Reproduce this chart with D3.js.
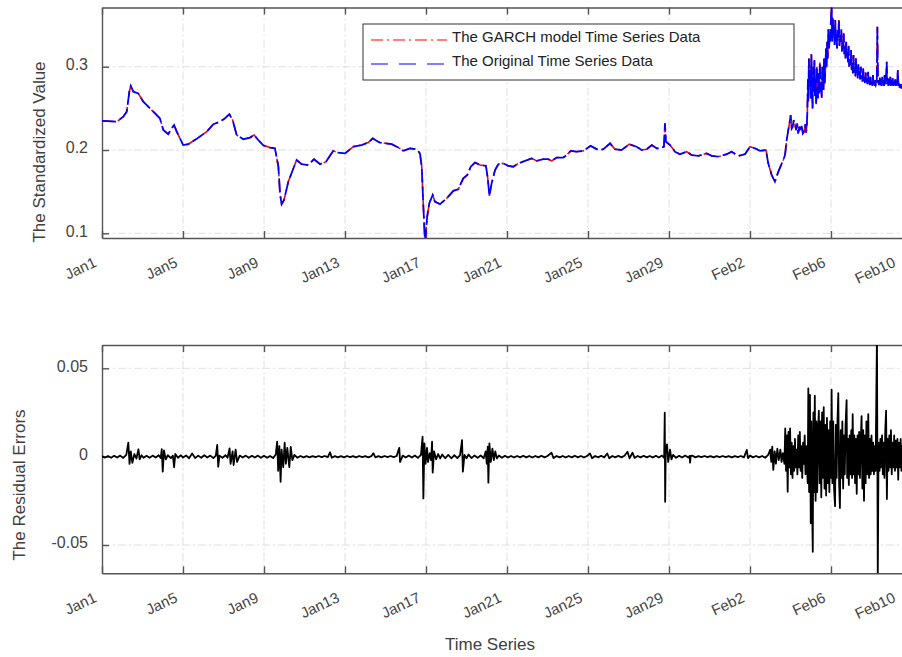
<!DOCTYPE html>
<html>
<head><meta charset="utf-8">
<style>
  body { margin: 0; background: #fff; }
  svg { display: block; font-family: "Liberation Sans", Arial, sans-serif; }
  .grid line { stroke: #dedede; stroke-width: 1; stroke-dasharray: 8,3,2,3; }
  .axis path, .axis line { stroke: #555; stroke-width: 1.4; }
  .axis text { fill: #444; }
  .label { fill: #404040; font-size: 17px; }
</style>
</head>
<body>
<script src="https://d3js.org/d3.v7.min.js"></script>
<script>
var width = 902, height = 657;

// x axis: days after Jan 1
var xTickDays = [0, 4, 8, 12, 16, 20, 24, 28, 32, 36, 40];
var xTickLabels = ["Jan1", "Jan5", "Jan9", "Jan13", "Jan17", "Jan21", "Jan25", "Jan29", "Feb2", "Feb6", "Feb10"];

var topTicks = [0.1, 0.2, 0.3];
var topTickLabels = ["0.1", "0.2", "0.3"];
var bottomTicks = [-0.05, 0, 0.05];
var bottomTickLabels = ["-0.05", "0", "0.05"];

var legendLabels = ["The GARCH model Time Series Data", "The Original Time Series Data"];

// [day, standardized value] (both series overlap)
var standardized = [
  [0.00,0.235],[0.03,0.235],[0.73,0.234],[1.05,0.240],[1.22,0.246],[1.35,0.270],[1.42,0.277],[1.55,0.270],
  [1.79,0.268],[2.04,0.258],[2.37,0.250],[2.62,0.244],[2.86,0.238],[3.03,0.224],[3.27,0.219],[3.44,0.226],
  [3.56,0.230],[3.69,0.222],[4.01,0.206],[4.26,0.207],[4.68,0.2136],[5.17,0.222],[5.50,0.231],[5.83,0.234],
  [6.07,0.238],[6.29,0.243],[6.45,0.236],[6.65,0.218],[6.98,0.213],[7.31,0.215],[7.51,0.218],[7.72,0.212],
  [7.97,0.2056],[8.30,0.203],[8.54,0.202],[8.71,0.180],[8.79,0.148],[8.87,0.135],[8.99,0.140],[9.20,0.162],
  [9.42,0.176],[9.61,0.188],[9.86,0.183],[10.19,0.182],[10.47,0.189],[10.77,0.183],[11.06,0.186],[11.42,0.199],
  [11.67,0.197],[12.00,0.196],[12.41,0.204],[12.82,0.206],[13.15,0.209],[13.37,0.214],[13.64,0.210],[13.73,0.209],
  [14.31,0.207],[14.63,0.203],[14.88,0.199],[15.21,0.202],[15.54,0.201],[15.70,0.196],[15.79,0.180],[15.87,0.132],
  [15.95,0.090],[16.06,0.120],[16.16,0.136],[16.33,0.146],[16.44,0.138],[16.69,0.135],[17.02,0.142],[17.35,0.151],
  [17.60,0.153],[17.84,0.166],[18.04,0.170],[18.21,0.180],[18.42,0.185],[18.67,0.182],[18.96,0.181],[19.05,0.166],
  [19.13,0.145],[19.24,0.160],[19.41,0.176],[19.57,0.183],[19.82,0.184],[20.06,0.181],[20.31,0.180],[20.56,0.184],
  [20.89,0.187],[21.22,0.190],[21.47,0.187],[21.79,0.189],[22.04,0.189],[22.21,0.187],[22.45,0.191],[22.78,0.191],
  [22.95,0.194],[23.15,0.199],[23.44,0.198],[23.77,0.199],[24.13,0.205],[24.51,0.200],[24.76,0.201],[25.09,0.208],
  [25.33,0.201],[25.66,0.200],[26.04,0.207],[26.40,0.204],[26.65,0.200],[26.90,0.201],[27.15,0.206],[27.39,0.202],
  [27.56,0.202],[27.75,0.204],[27.80,0.232],[27.85,0.210],[28.05,0.206],[28.30,0.198],[28.54,0.195],[28.87,0.198],
  [29.12,0.194],[29.45,0.193],[29.86,0.196],[30.11,0.193],[30.43,0.192],[30.85,0.195],[31.09,0.198],[31.42,0.193],
  [31.75,0.195],[32.00,0.204],[32.25,0.202],[32.49,0.199],[32.79,0.200],[32.90,0.184],[33.07,0.170],[33.23,0.162],
  [33.40,0.174],[33.64,0.188],[33.73,0.194],[33.81,0.212],[33.89,0.224],[33.95,0.232],[34.01,0.242],[34.06,0.226],
  [34.11,0.228],[34.16,0.236],[34.22,0.231],[34.28,0.224],[34.33,0.232],[34.38,0.220],[34.44,0.228],[34.50,0.222],
  [34.55,0.229],[34.61,0.220],[34.67,0.222],[34.73,0.231],[34.77,0.221],[34.80,0.227],
  [34.83,0.244],[34.86,0.285],[34.88,0.258],[34.91,0.310],[34.94,0.275],[34.97,0.298],[35.00,0.262],[35.03,0.315],
  [35.06,0.280],[35.09,0.250],[35.12,0.300],[35.15,0.270],[35.18,0.308],[35.21,0.265],[35.24,0.285],[35.27,0.255],
  [35.30,0.300],[35.33,0.275],[35.36,0.262],[35.39,0.292],[35.42,0.268],[35.45,0.305],[35.48,0.270],[35.51,0.282],
  [35.54,0.262],[35.57,0.300],[35.60,0.285],[35.63,0.272],[35.66,0.310],[35.69,0.280],[35.72,0.295],[35.75,0.322],
  [35.78,0.300],[35.81,0.330],[35.84,0.310],[35.87,0.345],[35.90,0.322],[35.93,0.336],[35.96,0.330],[35.99,0.352],
  [36.03,0.372],[36.06,0.330],[36.09,0.358],[36.12,0.338],[36.15,0.348],[36.18,0.326],[36.21,0.356],[36.24,0.330],
  [36.27,0.340],[36.30,0.322],[36.33,0.344],[36.36,0.335],[36.39,0.356],[36.42,0.325],[36.45,0.338],[36.48,0.330],
  [36.51,0.345],[36.54,0.318],[36.57,0.332],[36.60,0.322],[36.63,0.340],[36.66,0.315],[36.69,0.326],[36.72,0.310],
  [36.75,0.330],[36.78,0.312],[36.81,0.318],[36.84,0.305],[36.87,0.325],[36.90,0.300],[36.93,0.310],[36.96,0.302],
  [36.99,0.320],[37.02,0.296],[37.05,0.305],[37.08,0.292],[37.11,0.314],[37.14,0.294],[37.17,0.300],[37.20,0.288],
  [37.23,0.310],[37.26,0.292],[37.29,0.298],[37.32,0.286],[37.35,0.303],[37.38,0.290],[37.41,0.295],[37.44,0.284],
  [37.47,0.300],[37.50,0.286],[37.53,0.290],[37.56,0.282],[37.59,0.298],[37.62,0.283],[37.65,0.288],[37.68,0.280],
  [37.71,0.293],[37.74,0.281],[37.77,0.286],[37.80,0.279],[37.83,0.294],[37.86,0.280],[37.89,0.284],[37.92,0.278],
  [37.95,0.288],[37.98,0.279],[38.01,0.283],[38.04,0.277],[38.07,0.290],[38.10,0.279],[38.13,0.282],[38.16,0.277],
  [38.19,0.284],[38.22,0.278],[38.26,0.280],[38.29,0.348],[38.32,0.280],[38.35,0.284],[38.38,0.278],[38.41,0.287],
  [38.44,0.278],[38.47,0.285],[38.50,0.277],[38.53,0.288],[38.56,0.279],[38.59,0.284],[38.62,0.277],[38.65,0.290],
  [38.68,0.278],[38.72,0.282],[38.75,0.306],[38.78,0.279],[38.81,0.286],[38.84,0.277],[38.87,0.285],[38.90,0.278],
  [38.93,0.288],[38.96,0.277],[38.99,0.284],[39.02,0.278],[39.05,0.286],[39.08,0.277],[39.11,0.283],[39.14,0.278],
  [39.17,0.285],[39.20,0.277],[39.23,0.282],[39.26,0.277],[39.30,0.296],[39.33,0.277],[39.36,0.281],[39.39,0.275],
  [39.43,0.279],[39.47,0.274],[39.51,0.277],[39.60,0.273],[39.70,0.275],[39.80,0.272],[40.00,0.272]
];

// [day, residual error]
var residuals = [
  [0.0,0.0003],[0.15,-0.0005],[0.3,0.0004],[0.45,-0.0006],[0.6,0.0005],[0.75,-0.0005],[0.9,0.0006],[1.05,-0.0007],[1.2,0.001],
  [1.3,0.0079],[1.36,-0.0041],[1.42,0.003],[1.5,-0.0035],[1.6,0.0015],[1.7,-0.001],[1.8,0.0042],[1.86,-0.0015],[1.95,0.0008],
  [2.05,-0.0006],[2.2,0.0005],[2.35,-0.0006],[2.5,0.0006],[2.65,-0.0005],[2.8,0.0008],[2.9,-0.0008],
  [2.95,0.0042],[3.0,-0.0085],[3.06,0.0035],[3.15,-0.0015],[3.25,0.0008],[3.4,-0.0008],[3.5,0.0006],
  [3.56,-0.006],[3.62,0.0015],[3.75,-0.0006],[3.9,0.0008],[4.0,-0.0005],[4.15,0.0007],[4.3,-0.0009],[4.45,0.0018],[4.6,-0.0008],
  [4.75,0.0006],[4.9,-0.0006],[5.05,0.0008],[5.2,-0.0005],[5.35,0.0006],[5.5,-0.0008],[5.62,0.0006],
  [5.69,0.0066],[5.74,-0.0057],[5.8,0.0006],[5.95,-0.0006],[6.1,0.0008],[6.2,-0.0006],
  [6.3,0.0047],[6.35,-0.004],[6.45,0.003],[6.5,-0.0047],[6.6,0.004],[6.67,-0.003],[6.8,0.0006],[6.95,-0.0005],[7.1,0.0006],
  [7.25,-0.0006],[7.4,0.0005],[7.55,-0.0005],[7.7,0.0006],[7.85,-0.0006],[8.0,0.0005],[8.15,-0.0006],[8.3,0.0004],[8.45,-0.0008],[8.58,0.0012],
  [8.65,0.0085],[8.7,-0.008],[8.76,0.006],[8.82,-0.0142],[8.87,0.004],[8.95,-0.006],[9.02,0.0079],[9.08,-0.004],[9.15,0.005],
  [9.25,-0.006],[9.32,0.0055],[9.4,-0.002],[9.5,0.001],[9.65,-0.0006],
  [9.8,0.0004],[9.95,-0.0004],[10.1,0.0003],[10.25,-0.0004],[10.4,0.0003],[10.55,-0.0003],[10.7,0.0004],[10.85,-0.0003],
  [11.0,0.0004],[11.15,-0.0003],[11.26,0.0025],[11.35,-0.0006],[11.5,0.0003],[11.65,-0.0004],[11.8,0.0003],[11.95,-0.0004],
  [12.1,0.0004],[12.25,-0.0003],[12.4,0.0003],[12.55,-0.0004],[12.7,0.0004],[12.85,-0.0003],[13.0,0.0003],[13.15,-0.0004],
  [13.3,0.0003],[13.4,0.002],[13.5,-0.0004],[13.65,0.0003],[13.8,-0.0004],[13.95,0.0004],[14.1,-0.0003],[14.25,0.0004],
  [14.4,-0.0003],[14.55,0.0004],[14.68,0.005],[14.72,-0.003],[14.85,0.0006],[15.0,-0.0005],[15.15,0.0006],[15.3,-0.0005],
  [15.45,0.0007],[15.6,-0.0007],[15.75,0.001],
  [15.83,0.0113],[15.87,-0.0236],[15.92,0.0075],[15.98,-0.004],[16.05,0.005],[16.1,-0.003],[16.18,0.002],[16.25,-0.002],
  [16.3,0.0085],[16.33,-0.009],[16.4,0.003],[16.5,-0.0015],[16.6,0.0015],[16.7,-0.001],[16.8,0.0012],[16.95,-0.0009],
  [17.1,0.001],[17.25,-0.0009],[17.4,0.0008],[17.55,-0.0008],[17.68,0.0009],
  [17.78,0.0094],[17.82,-0.0085],[17.9,0.001],[18.0,-0.0009],[18.1,0.0012],[18.25,-0.0008],[18.4,0.0007],[18.55,-0.0007],
  [18.7,0.0007],[18.85,-0.0009],[18.95,0.003],
  [19.0,-0.004],[19.05,0.0057],[19.08,-0.0147],[19.13,0.0075],[19.2,-0.003],[19.28,0.0045],[19.35,-0.002],[19.42,0.003],
  [19.5,-0.001],[19.6,0.0007],[19.75,-0.0006],
  [19.9,0.0005],[20.05,-0.0005],[20.2,0.0004],[20.35,-0.0005],[20.5,0.0004],[20.65,-0.0004],[20.8,0.0005],[20.95,-0.0004],
  [21.1,0.0004],[21.25,-0.0005],[21.4,0.0004],[21.55,-0.0004],[21.7,0.0005],[21.85,-0.0004],[22.0,0.0004],[22.2,0.0022],
  [22.3,-0.0008],[22.45,0.0004],[22.6,-0.0004],[22.75,0.0004],[22.9,-0.0005],[23.05,0.0004],[23.2,-0.0004],[23.35,0.0005],
  [23.5,-0.0004],[23.65,0.0004],[23.8,-0.0005],[23.95,0.0004],[24.1,0.0018],[24.2,-0.0009],[24.35,0.0004],[24.5,-0.0004],
  [24.65,0.0005],[24.8,-0.0004],[24.95,0.0018],[25.05,-0.0009],[25.2,0.0004],[25.35,-0.0004],[25.5,0.0005],[25.65,-0.0004],
  [25.8,0.0005],[25.95,0.0028],[26.05,-0.0009],[26.2,0.0022],[26.3,-0.0007],[26.45,0.0004],[26.6,-0.0004],[26.75,0.0005],
  [26.9,-0.0004],[27.05,0.0004],[27.2,-0.0005],[27.35,0.0005],[27.5,-0.0005],[27.65,0.0006],[27.76,-0.0006],
  [27.79,0.0249],[27.81,-0.0255],[27.84,0.004],[27.9,0.007],[27.96,-0.003],[28.05,0.004],[28.12,-0.0015],[28.2,0.001],[28.35,-0.0006],
  [28.5,0.0005],[28.65,-0.0005],[28.8,0.0006],[28.95,-0.0005],[29.02,0.0004],[29.04,-0.0034],[29.07,0.0004],[29.15,0.0006],
  [29.3,-0.0004],[29.45,0.0003],[29.6,-0.0003],[29.75,0.0004],[29.9,-0.0003],[30.05,0.0003],[30.2,-0.0004],[30.35,0.0003],
  [30.5,-0.0003],[30.65,0.0004],[30.8,-0.0003],[30.95,0.0003],[31.1,-0.0004],[31.25,0.0003],[31.4,-0.0003],[31.55,0.0004],
  [31.7,-0.0004],[31.84,0.0038],[31.9,-0.0008],[32.0,0.0006],[32.15,-0.0004],[32.3,0.0004],[32.45,-0.0004],[32.6,0.0004],
  [32.75,-0.0006],[32.9,0.001],
  [33.0,0.004],[33.05,-0.003],[33.1,0.0057],[33.15,-0.0075],[33.22,0.003],[33.28,-0.004],[33.35,0.0045],[33.42,-0.002],
  [33.5,0.004],[33.56,-0.003],[33.62,0.002],
  [33.7,-0.004],[33.74,0.016],[33.78,-0.008],[33.82,0.012],[33.86,-0.0198],[33.9,0.014],[33.94,-0.006],[33.98,0.016],
  [34.02,-0.01],[34.06,0.008],[34.1,-0.012],[34.14,0.006],[34.18,-0.008],[34.22,0.01],[34.26,-0.006],[34.3,0.004],
  [34.34,-0.01],[34.38,0.012],[34.42,-0.006],[34.46,0.014],[34.5,-0.008],[34.54,0.006],[34.58,-0.012],[34.62,0.008],
  [34.66,-0.004],[34.7,0.012],[34.74,-0.01],[34.78,0.006],
  [34.85,-0.015],[34.88,0.0387],[34.92,-0.02],[34.96,0.035],[35.0,-0.0377],[35.03,0.02],[35.07,-0.03],[35.1,-0.0538],
  [35.13,0.025],[35.17,-0.02],[35.2,0.0345],[35.24,-0.025],[35.28,0.02],[35.32,-0.02],[35.36,0.015],
  [35.4,0.026],[35.44,-0.015],[35.48,0.02],[35.52,-0.023],[35.56,0.025],[35.6,-0.012],[35.64,0.028],[35.68,-0.018],
  [35.72,0.018],[35.76,-0.022],[35.8,0.022],[35.84,-0.015],
  [35.88,0.015],[35.92,-0.02],[35.96,0.02],[36.0,-0.012],[36.03,0.038],[36.07,-0.015],[36.11,0.02],[36.15,-0.018],
  [36.2,-0.028],[36.24,0.018],[36.28,-0.012],[36.32,0.02],[36.36,0.036],[36.4,-0.015],[36.44,-0.029],[36.48,0.015],
  [36.52,-0.012],[36.56,0.02],[36.6,-0.018],
  [36.64,0.012],[36.68,-0.01],[36.72,0.018],[36.77,0.032],[36.8,-0.012],[36.84,0.01],[36.88,-0.016],[36.92,0.012],
  [36.96,-0.01],[37.0,0.015],[37.04,-0.012],[37.07,0.024],[37.11,-0.01],[37.15,0.012],[37.19,-0.015],[37.23,0.01],
  [37.27,-0.021],[37.31,0.012],[37.35,-0.01],[37.39,0.014],[37.43,-0.012],[37.47,0.01],[37.51,0.023],[37.55,-0.018],
  [37.59,0.015],[37.63,-0.025],[37.67,0.012],[37.71,-0.015],[37.75,0.02],[37.8,-0.01],[37.84,0.024],[37.88,-0.012],
  [37.92,0.01],[37.96,-0.01],[38.0,0.012],[38.04,-0.008],[38.08,0.008],[38.12,-0.01],[38.16,0.006],[38.2,-0.008],
  [38.27,0.07],[38.31,-0.07],[38.35,0.008],
  [38.4,-0.008],[38.44,0.01],[38.48,-0.006],[38.52,0.012],[38.56,-0.01],[38.6,0.008],[38.64,-0.012],[38.68,0.015],
  [38.72,0.026],[38.76,-0.024],[38.8,0.01],[38.84,-0.008],[38.88,0.012],[38.92,-0.006],[38.96,0.015],[39.0,-0.01],
  [39.04,0.008],[39.08,-0.006],[39.12,0.012],[39.16,-0.008],[39.2,0.009],[39.24,-0.006],[39.28,0.01],[39.32,-0.013],
  [39.36,0.008],[39.4,-0.006],[39.44,0.01],[39.48,-0.008],[39.52,0.006],[39.6,-0.005],[39.7,0.005],[39.8,-0.004],
  [39.9,0.004],[40.0,-0.003]
];

var left = 102, right = 912;

var svg = d3.select("body").append("svg")
    .attr("width", width)
    .attr("height", height);

var x = d3.scaleLinear().domain([0, 40]).range([left, right]);

var yTop = d3.scaleLinear().domain([0.0944, 0.3711]).range([238, 7.5]);
var yBottom = d3.scaleLinear().domain([-0.066, 0.0632]).range([573.3, 345]);

function drawFrame(y, ticks, tickLabels, id) {
  var y0 = y.range()[0], y1 = y.range()[1];

  svg.append("clipPath").attr("id", id)
    .append("rect")
      .attr("x", left).attr("y", y1)
      .attr("width", right - left).attr("height", y0 - y1);

  var grid = svg.append("g").attr("class", "grid");
  grid.selectAll(".vx").data(xTickDays.slice(1)).enter().append("line")
      .attr("x1", d => x(d)).attr("x2", d => x(d))
      .attr("y1", y1).attr("y2", y0);
  grid.selectAll(".hy").data(ticks).enter().append("line")
      .attr("x1", left).attr("x2", right)
      .attr("y1", d => y(d)).attr("y2", d => y(d));

  // bottom axis with rotated labels
  var gx = svg.append("g")
      .attr("class", "axis")
      .attr("transform", "translate(0," + y0 + ")")
      .call(d3.axisBottom(x)
        .tickValues(xTickDays)
        .tickFormat((d, i) => xTickLabels[i])
        .tickSizeInner(-7).tickSizeOuter(0).tickPadding(0));
  gx.selectAll("text")
      .attr("y", 0).attr("dy", 0)
      .attr("text-anchor", "end")
      .style("font-size", "15px")
      // last label pulled in a little so it is not cut by the page edge
      .attr("transform", (d, i) => "translate(" + (i === xTickDays.length - 1 ? -16 : -5) + ",28) rotate(-25)");

  svg.append("g")
      .attr("class", "axis")
      .attr("transform", "translate(0," + y1 + ")")
      .call(d3.axisTop(x).tickValues(xTickDays).tickFormat("")
        .tickSizeInner(-7).tickSizeOuter(0));

  var gy = svg.append("g")
      .attr("class", "axis")
      .attr("transform", "translate(" + left + ",0)")
      .call(d3.axisLeft(y)
        .tickValues(ticks)
        .tickFormat((d, i) => tickLabels[i])
        .tickSizeInner(-7).tickSizeOuter(0).tickPadding(14));
  gy.selectAll("text").attr("dy", "0.17em").style("font-size", "16px");
}

drawFrame(yTop, topTicks, topTickLabels, "clipTop");
drawFrame(yBottom, bottomTicks, bottomTickLabels, "clipBottom");

var lineTop = d3.line().x(d => x(d[0])).y(d => yTop(d[1]));
var lineBottom = d3.line().x(d => x(d[0])).y(d => yBottom(d[1]));

var plotTop = svg.append("g").attr("clip-path", "url(#clipTop)");
// GARCH model (red dash-dot) under the original data (blue dashed)
plotTop.append("path")
    .datum(standardized)
    .attr("d", lineTop)
    .attr("fill", "none")
    .attr("stroke", "#ff0000")
    .attr("stroke-width", 1.6)
    .attr("stroke-dasharray", "12,4,2,4");
plotTop.append("path")
    .datum(standardized)
    .attr("d", lineTop)
    .attr("fill", "none")
    .attr("stroke", "#0000ff")
    .attr("stroke-width", 1.8)
    .attr("stroke-dasharray", "14,4");

svg.append("g").attr("clip-path", "url(#clipBottom)")
  .append("path")
    .datum(residuals)
    .attr("d", lineBottom)
    .attr("fill", "none")
    .attr("stroke", "#000")
    .attr("stroke-width", 1.8)
    .attr("stroke-linejoin", "round");

// legend
var legend = svg.append("g");
legend.append("rect")
    .attr("x", 363).attr("y", 24)
    .attr("width", 431).attr("height", 56)
    .attr("fill", "#fff").attr("stroke", "#333").attr("stroke-width", 1);
var legendStyles = [
  { color: "#ff0000", dash: "12,4,2,4", y: 40 },
  { color: "#0000ff", dash: "17,11", y: 64 }
];
legend.selectAll("line").data(legendStyles).enter().append("line")
    .attr("x1", 371).attr("x2", 447)
    .attr("y1", d => d.y).attr("y2", d => d.y)
    .attr("stroke", d => d.color)
    .attr("stroke-width", 1.2)
    .attr("stroke-dasharray", d => d.dash);
legend.selectAll("text").data(legendLabels).enter().append("text")
    .attr("x", 452)
    .attr("y", (d, i) => legendStyles[i].y + 1.5)
    .style("font-size", "15px")
    .attr("fill", "#222")
    .text(d => d);

// axis titles
svg.append("text").attr("class", "label")
    .attr("transform", "translate(45,152) rotate(-90)")
    .attr("text-anchor", "middle")
    .text("The Standardized Value");
svg.append("text").attr("class", "label")
    .attr("transform", "translate(25,485) rotate(-90)")
    .attr("text-anchor", "middle")
    .text("The Residual Errors");
svg.append("text").attr("class", "label")
    .attr("x", 490).attr("y", 650)
    .attr("text-anchor", "middle")
    .text("Time Series");
</script>
</body>
</html>
